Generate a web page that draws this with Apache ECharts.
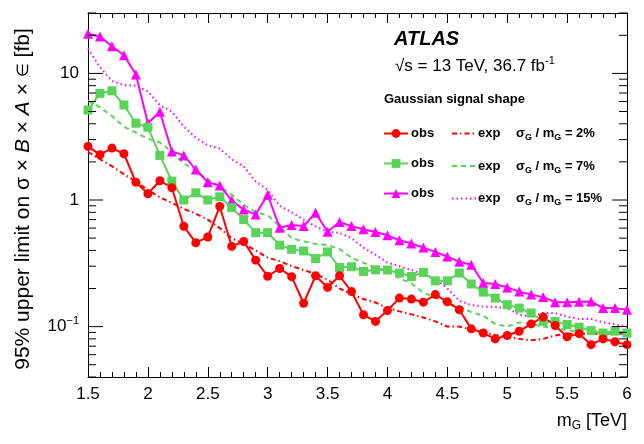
<!DOCTYPE html>
<html><head><meta charset="utf-8">
<script src="https://cdn.jsdelivr.net/npm/echarts@6/dist/echarts.min.js"></script>
<style>html,body{margin:0;padding:0;background:#fff}#c{width:644px;height:444px}</style>
</head><body><div id="c"></div>
<script>
// ---- data ----
const massTeV = [1.5,1.6,1.7,1.8,1.9,2.0,2.1,2.2,2.3,2.4,2.5,2.6,2.7,2.8,2.9,3.0,3.1,3.2,3.3,3.4,3.5,3.6,3.7,3.8,3.9,4.0,4.1,4.2,4.3,4.4,4.5,4.6,4.7,4.8,4.9,5.0,5.1,5.2,5.3,5.4,5.5,5.6,5.7,5.8,5.9,6.0];
const obs2 = [2.65,2.28,2.57,2.32,1.38,1.12,1.42,1.25, 0.62,0.46,0.51,0.89,0.43,0.47,0.335,0.25, 0.288,0.248,0.153,0.252,0.204,0.252,0.189,0.124, 0.11,0.134,0.168,0.165,0.156,0.179,0.157,0.136, 0.096,0.089,0.080,0.085,0.092,0.105,0.119,0.102, 0.083,0.088,0.072,0.080,0.076,0.072];
const obs7 = [5.14,6.95,7.29,5.63,4.04,3.76,2.25,1.41, 1.0,1.14,1.0,1.06,0.87,0.70,0.552,0.552, 0.44,0.408,0.396,0.345,0.389,0.293,0.297,0.273, 0.281,0.28,0.265,0.249,0.268,0.23,0.23,0.265, 0.217,0.187,0.168,0.149,0.14,0.128,0.11,0.11, 0.104,0.099,0.093,0.089,0.092,0.089];
const obs15 = [20.6,19.6,16.4,13.9,9.8,4.04,4.98,2.42, 2.25,1.74,1.38,1.30,0.99,0.84,0.77,1.10, 0.604,0.634,0.622,0.793,0.562,0.67,0.622,0.587, 0.558,0.526,0.481,0.453,0.421,0.389,0.358,0.325, 0.308,0.221,0.217,0.204,0.189,0.179,0.171,0.156, 0.156,0.157,0.158,0.14,0.14,0.136];
const exp2 = [2.4,2.1,1.85,1.6,1.4,1.2,1.05,0.95, 0.85,0.78,0.7,0.6,0.5,0.45,0.4,0.35, 0.33,0.3,0.28,0.26,0.235,0.2,0.18,0.165, 0.155,0.14,0.132,0.125,0.118,0.11,0.1,0.1, 0.095,0.09,0.086,0.083,0.08,0.078,0.08,0.085, 0.088,0.088,0.088,0.088,0.088,0.088];
const exp7 = [6.1,5.4,4.6,3.8,3.4,3.05,2.85,2.4, 1.95,1.7,1.45,1.28,1.1,0.92,0.8,0.76, 0.62,0.5,0.47,0.45,0.44,0.41,0.35,0.32, 0.29,0.28,0.24,0.22,0.185,0.17,0.15,0.145, 0.13,0.122,0.105,0.1,0.108,0.105,0.1,0.097, 0.094,0.091,0.09,0.089,0.088,0.088];
const exp15 = [15.7,11.2,8.7,8.1,8.0,7.2,5.6,5.0, 3.8,3.1,2.7,2.55,2.1,1.85,1.4,1.2, 0.9,0.8,0.7,0.62,0.56,0.55,0.5,0.42, 0.37,0.32,0.3,0.28,0.26,0.24,0.2,0.16, 0.148,0.144,0.143,0.14,0.124,0.12,0.128,0.128, 0.12,0.115,0.115,0.108,0.104,0.1];
const xTickLabels = ['1.5','2','2.5','3','3.5','4','4.5','5','5.5','6'];
const yMajorValues = [0.1, 1, 10];
const yTickValues = [];
[0.01,0.1,1,10].forEach(d => { for (let k = 1; k <= 9; k++) { const v = +(k*d).toPrecision(3); if (v >= 0.04 && v <= 30) yTickValues.push(v); } });

// ---- chart ----
const FONT = 'Liberation Sans, Arial, Helvetica, sans-serif';
const RED = '#ff0000', GREEN = '#5ad35a', MAG = '#ff00ff';
const pair = arr => massTeV.map((m, i) => [m, arr[i]]);
const chart = echarts.init(document.getElementById('c'), null, {renderer: 'canvas'});

function obsSeries(name, arr, color, symbol, size) {
  return { name, type: 'line', data: pair(arr), symbol, symbolSize: size,
    lineStyle: {color, width: 2}, itemStyle: {color}, z: 5, animation: false };
}
function expSeries(name, arr, color, dash) {
  return { name, type: 'line', data: pair(arr), symbol: 'none', showSymbol: false,
    lineStyle: {color, width: 2, type: dash}, itemStyle: {color}, z: 4, animation: false };
}

const subRich = {
  b: {fontSize: 13, fontWeight: 'bold', fontFamily: FONT, color: '#000', lineHeight: 18},
  s: {fontSize: 9, fontWeight: 'bold', fontFamily: FONT, color: '#000', lineHeight: 9, verticalAlign: 'bottom'},
  e: {fontSize: 13, fontWeight: 'bold', fontFamily: FONT, color: '#000', lineHeight: 18, width: 38}
};

const option = {
  backgroundColor: '#fff',
  animation: false,
  grid: {left: 88, right: 17, top: 13, bottom: 67, containLabel: false},
  title: [
    {text: 'ATLAS', left: 389, top: 24, textStyle: {fontFamily: FONT, fontSize: 20, fontWeight: 'bold', fontStyle: 'italic', color: '#000'}},
    {text: '{t|√s = 13 TeV, 36.7 fb}{u|-1}', left: 390, top: 50,
      textStyle: {fontWeight: 'normal', rich: {
        t: {fontFamily: FONT, fontSize: 17, fontWeight: 'normal', color: '#000', lineHeight: 22},
        u: {fontFamily: FONT, fontSize: 11, fontWeight: 'normal', color: '#000', lineHeight: 11, verticalAlign: 'top'}}}},
    {text: 'Gaussian signal shape', left: 379, top: 88, textStyle: {fontFamily: FONT, fontSize: 13, fontWeight: 'bold', color: '#000'}}
  ],
  legend: [
    {data: ['obs 2%','obs 7%','obs 15%'], left: 378, top: 122, orient: 'vertical', itemGap: 17,
      itemWidth: 24, itemHeight: 11, formatter: () => 'obs', selectedMode: false,
      textStyle: {fontFamily: FONT, fontSize: 13, fontWeight: 'bold', color: '#000', padding: [0,0,0,-2]}},
    {data: ['exp 2%','exp 7%','exp 15%'].map(n => ({name: n, itemStyle: {opacity: 0}})),
      left: 446, top: 122, orient: 'vertical', itemGap: 17,
      itemWidth: 24, itemHeight: 11, selectedMode: false,
      formatter: name => '{e|exp}{b|σ}{s|G}{b| / m}{s|G}{b| = ' + name.split(' ')[1] + '}',
      textStyle: {fontFamily: FONT, fontSize: 13, fontWeight: 'bold', color: '#000', rich: subRich, padding: [0,0,0,-3]}}
  ],
  xAxis: [
    {type: 'value', min: 1.5, max: 6, interval: 0.5, position: 'bottom',
      axisLine: {show: true, onZero: false, lineStyle: {color: '#000', width: 1}},
      axisTick: {show: true, inside: true, length: 10, lineStyle: {color: '#000'}},
      minorTick: {show: true, splitNumber: 5, length: 5, lineStyle: {color: '#000'}},
      splitLine: {show: false},
      axisLabel: {fontFamily: FONT, fontSize: 17, color: '#000', margin: 9,
        formatter: v => xTickLabels[Math.round((v - 1.5) / 0.5)] ?? ''},
      name: '{t|m}{s|G}{t| [TeV]}', nameLocation: 'end', nameGap: 0,
      nameTextStyle: {align: 'right', verticalAlign: 'top', padding: [33, 0, 0, 0],
        rich: {t: {fontFamily: FONT, fontSize: 18, color: '#000', lineHeight: 22},
               s: {fontFamily: FONT, fontSize: 12, color: '#000', lineHeight: 12, verticalAlign: 'bottom'}}}},
    {type: 'value', min: 1.5, max: 6, interval: 0.5, position: 'top',
      axisLine: {show: true, onZero: false, lineStyle: {color: '#000', width: 1}},
      axisTick: {show: true, inside: true, length: 10, lineStyle: {color: '#000'}},
      minorTick: {show: true, splitNumber: 5, length: 5, lineStyle: {color: '#000'}},
      splitLine: {show: false}, axisLabel: {show: false}}
  ],
  yAxis: [
    {type: 'log', logBase: 10, min: 0.04, max: 30, position: 'left',
      axisLine: {show: true, onZero: false, lineStyle: {color: '#000', width: 1}},
      axisTick: {show: false}, splitLine: {show: false}, minorTick: {show: false},
      axisLabel: {margin: 9, color: '#000', showMinLabel: true, showMaxLabel: true,
        formatter: v => {
          if (Math.abs(v - 10) < 1e-6) return '{n|10}';
          if (Math.abs(v - 1) < 1e-6) return '{n|1}';
          if (Math.abs(v - 0.1) < 1e-6) return '{n|10}{p|−1}';
          return '';
        },
        rich: {n: {fontFamily: FONT, fontSize: 17, color: '#000', lineHeight: 22},
               p: {fontFamily: FONT, fontSize: 11, color: '#000', lineHeight: 11, verticalAlign: 'top'}}},
      name: '95% upper limit on {t|σ × }{i|B}{t| × }{i|A}{t| × }{e|∈}{t| [fb]}', nameLocation: 'middle', nameGap: 54, nameRotate: 90,
      nameTextStyle: {fontFamily: FONT, fontSize: 21, color: '#000', padding: [0, 8, 0, 0],
        rich: {t: {fontFamily: FONT, fontSize: 21, color: '#000'},
               i: {fontFamily: FONT, fontSize: 21, fontStyle: 'italic', color: '#000'},
               e: {fontFamily: FONT, fontSize: 16, color: '#000'}}}},
    {type: 'log', logBase: 10, min: 0.04, max: 30, position: 'right',
      axisLine: {show: true, onZero: false, lineStyle: {color: '#000', width: 1}},
      axisTick: {show: false}, splitLine: {show: false}, axisLabel: {show: false}}
  ],
  series: [
    expSeries('exp 2%', exp2, RED, [5, 3, 1.5, 3]),
    expSeries('exp 7%', exp7, GREEN, [5, 4]),
    expSeries('exp 15%', exp15, MAG, [1.5, 3]),
    obsSeries('obs 15%', obs15, MAG, 'triangle', 10),
    obsSeries('obs 7%', obs7, GREEN, 'rect', 9),
    obsSeries('obs 2%', obs2, RED, 'circle', 9),
    { name: 'yticks', type: 'custom', silent: true, z: 10, clip: false,
      data: yTickValues.map(v => [1.5, v]),
      renderItem: (params, api) => {
        const v = api.value(1);
        const major = yMajorValues.some(m => Math.abs(m - v) < 1e-9);
        const len = major ? 15 : 8;
        const pl = api.coord([1.5, v]), pr = api.coord([6, v]);
        const st = {stroke: '#000', lineWidth: 1};
        return {type: 'group', children: [
          {type: 'line', shape: {x1: pl[0], y1: pl[1], x2: pl[0] + len, y2: pl[1]}, style: st},
          {type: 'line', shape: {x1: pr[0] - len, y1: pr[1], x2: pr[0], y2: pr[1]}, style: st}
        ]};
      }
    }
  ]
};
chart.setOption(option);
</script></body></html>
